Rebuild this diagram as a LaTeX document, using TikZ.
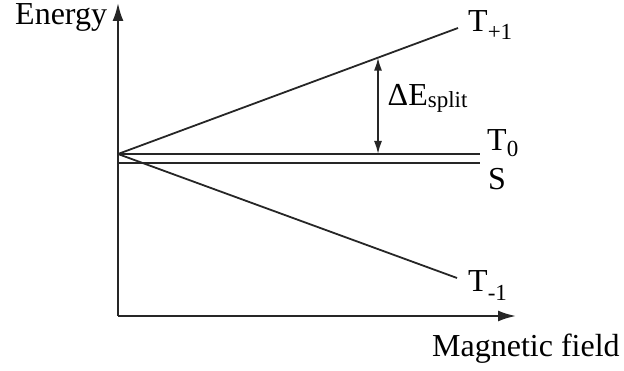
\documentclass[tikz,border=0pt]{standalone}
\usepackage{fontspec}
\setmainfont{Liberation Serif}
\usetikzlibrary{arrows.meta}
\newcommand{\lsub}[2][7pt]{\raisebox{-#1}{\fontsize{23}{23}\selectfont #2}}
\begin{document}
\begin{tikzpicture}[x=1pt,y=-1pt,
  axis/.style={black!85,line width=2.1pt,-{Latex[length=18pt,width=11pt]}},
  level/.style={black!85,line width=1.8pt},
  lbl/.style={inner sep=0pt,anchor=base west,font=\fontsize{32}{36}\selectfont}]
\useasboundingbox (0,0) rectangle (624,371);
\coordinate (O) at (118,316);
\coordinate (ytip) at (118,3);
\coordinate (xtip) at (516,316);
\coordinate (Z) at (118,154);
\coordinate (tp) at (458,28);
\coordinate (tm) at (457,278);
\coordinate (tz) at (480,154);
\coordinate (sz) at (118,163);
\coordinate (se) at (480,163);
\coordinate (dtop) at (378,57.6);
\coordinate (dbot) at (378,154);
\draw[axis] (O)--(ytip);
\draw[axis] (O)--(xtip);
\draw[level] (Z)--(tp);
\draw[level] (Z)--(tm);
\draw[level] (Z)--(tz);
\draw[level] (sz)--(se);
\draw[black!85,line width=1.7pt,{Latex[length=13pt,width=8pt]}-{Latex[length=13pt,width=8pt]}] (dtop)--(dbot);
\node[lbl] (en) at (15,25) {Energy};
\node[lbl] (mf) at (432,356) {Magnetic field};
\node[lbl] (tplus) at (468,32) {T\lsub[8pt]{+1}};
\node[lbl] (tzero) at (487,151) {T\lsub[6pt]{0}};
\node[lbl] (sing) at (488,190) {S};
\node[lbl] (tminus) at (468,291.5) {T\lsub[9pt]{-1}};
\node[lbl] (split) at (387.5,106) {ΔE\lsub[2pt]{split}};
\end{tikzpicture}
\end{document}
